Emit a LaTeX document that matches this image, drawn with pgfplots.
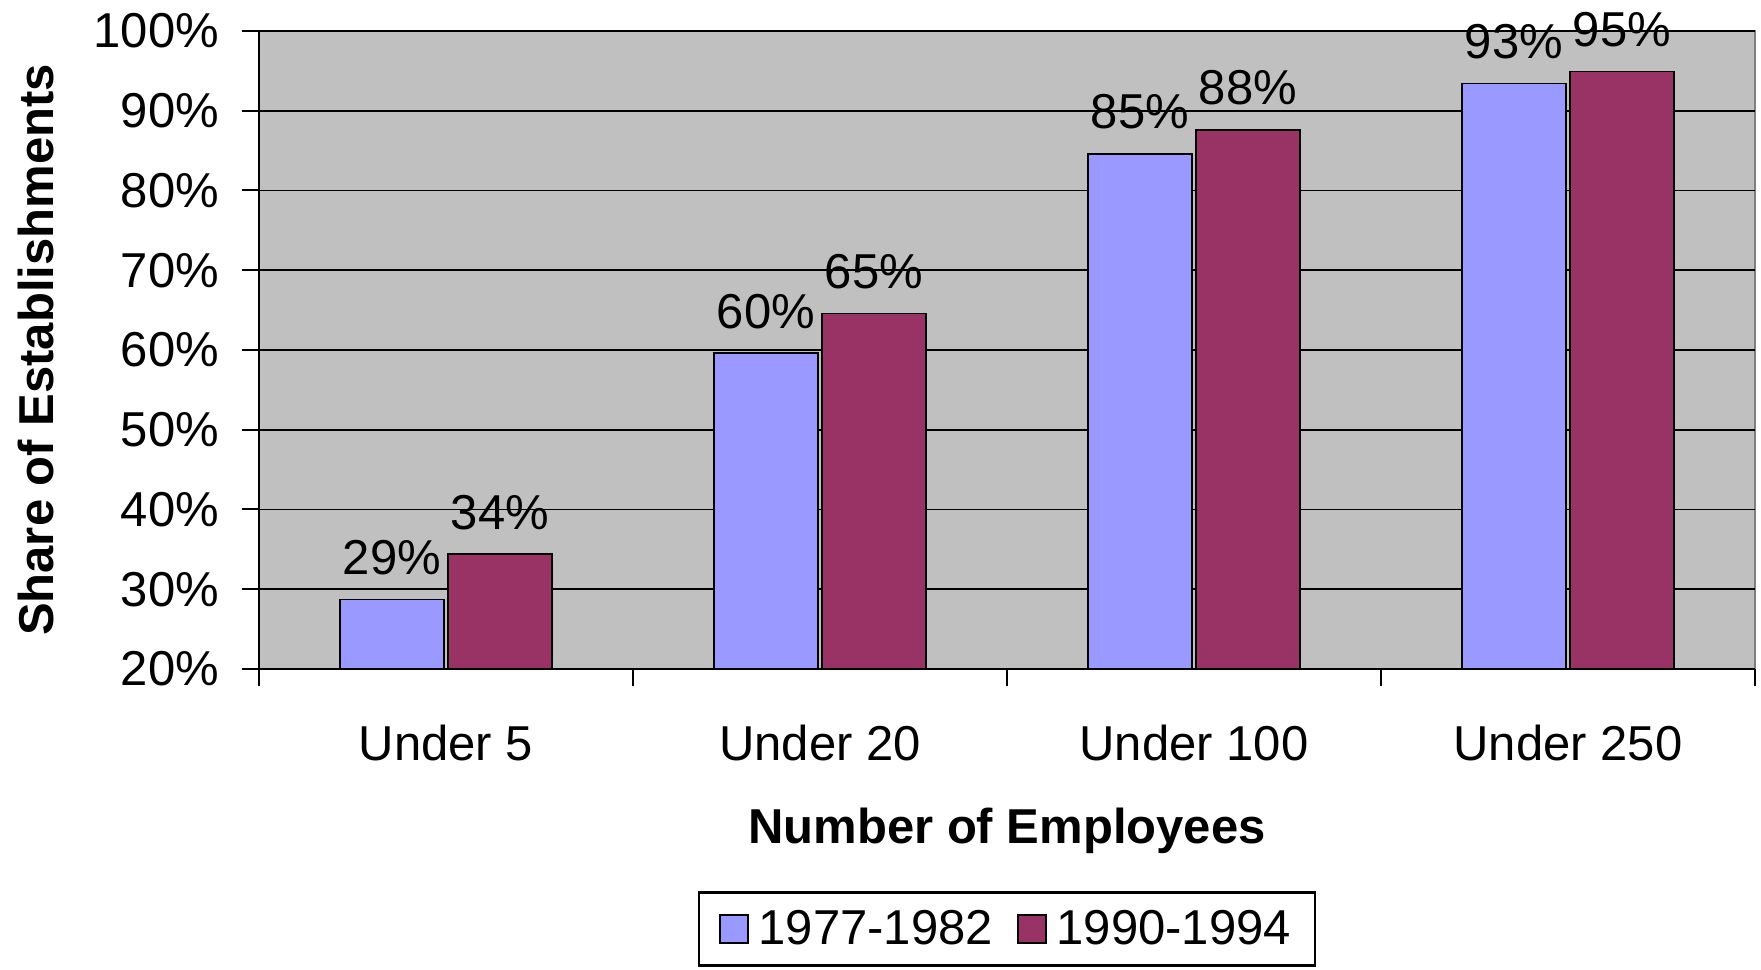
\documentclass[border=0pt]{standalone}
\usepackage{fontspec}
\setmainfont{Liberation Sans}
\usepackage{pgfplots}
\pgfplotsset{compat=1.18}
\definecolor{barblue}{RGB}{153,153,255}
\definecolor{barred}{RGB}{153,51,102}
\definecolor{bggray}{RGB}{192,192,192}
\definecolor{bordergray}{RGB}{128,128,128}
\newcommand{\bigfont}{\fontsize{24.5}{29}\selectfont}
\begin{document}
\begin{tikzpicture}
\begin{axis}[
  name=ax,
  scale only axis,
  width=748pt, height=319pt,
  ybar=2pt,
  bar width=52pt,
  xmin=-0.5, xmax=3.5,
  ymin=20, ymax=100,
  clip=false,
  font=\bigfont,
  axis background/.style={fill=bggray, draw=bordergray, line width=1.2pt},
  axis x line*=bottom,
  axis y line*=left,
  axis line style={line width=1.2pt, black},
  tick align=outside,
  ytick={20,30,...,100},
  yticklabels={20\%,30\%,40\%,50\%,60\%,70\%,80\%,90\%,100\%},
  ymajorgrids,
  major grid style={black, line width=0.8pt},
  major tick length=8.5pt,
  tick style={black, line width=1pt},
  xtick={-0.5,0.5,1.5,2.5,3.5},
  xticklabels={},
  extra x ticks={0,1,2,3},
  extra x tick labels={Under 5,Under 20,Under 100,Under 250},
  extra x tick style={major tick length=0pt, xticklabel style={yshift=-24.5pt}},
  ticklabel style={font=\bigfont},
  yticklabel style={xshift=-8pt},
  every axis x label/.style={at={(axis description cs:0.5,-0.253)}, anchor=center},
  every axis y label/.style={at={(axis description cs:-0.1491,0.5)}, anchor=center, rotate=90},
  xlabel={\bfseries Number of Employees},
  ylabel={\bfseries Share of Establishments},
  label style={font=\bigfont},
  legend columns=2,
  legend style={at={(axis description cs:0.5,-0.4075)}, anchor=center, draw=black, line width=1.2pt, font=\bigfont, inner xsep=10pt, inner ysep=7pt,
    /tikz/every odd column/.append style={column sep=3pt},
    /tikz/every even column/.append style={column sep=10pt}},
  point meta=explicit symbolic,
  nodes near coords,
  nodes near coords style={font=\bigfont, anchor=south, yshift=8.5pt},
]
\addplot[fill=barblue, draw=black, line width=0.8pt,
  legend image code/.code={\draw[fill=barblue, draw=black, line width=0.8pt] (0pt,-7pt) rectangle (14pt,7pt);}]
  coordinates {(0,28.7) [29\%] (1,59.6) [60\%] (2,84.6) [85\%] (3,93.4) [93\%]};
\addplot[fill=barred, draw=black, line width=0.8pt,
  legend image code/.code={\draw[fill=barred, draw=black, line width=0.8pt] (0pt,-7pt) rectangle (14pt,7pt);}]
  coordinates {(0,34.4) [34\%] (1,64.6) [65\%] (2,87.6) [88\%] (3,94.9) [95\%]};
\legend{1977-1982,1990-1994}
\end{axis}
\pgfresetboundingbox
\path ([shift={(-129.5pt,-150.5pt)}]ax.south west) rectangle ([shift={(3pt,15.5pt)}]ax.north east);
\end{tikzpicture}
\end{document}
